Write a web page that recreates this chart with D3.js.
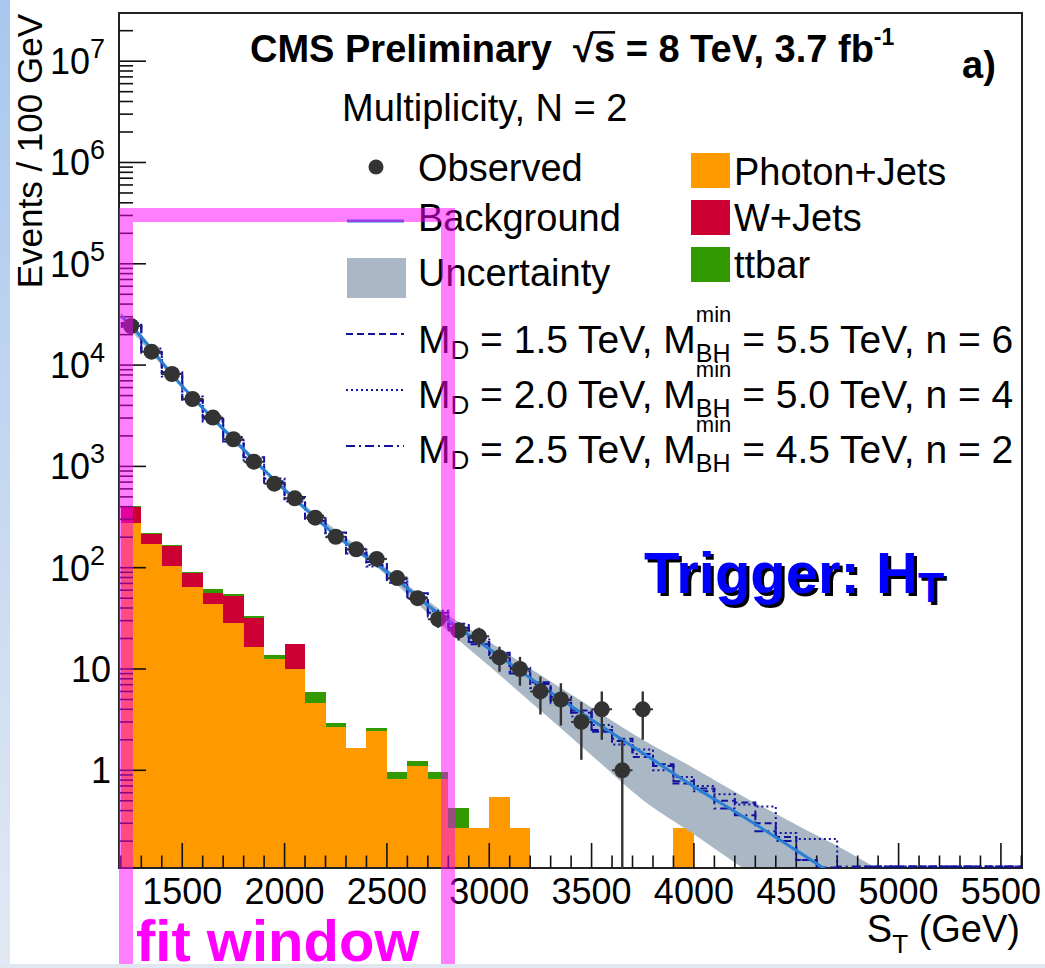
<!DOCTYPE html>
<html>
<head>
<meta charset="utf-8">
<title>S_T distribution, N = 2</title>
<style>
  html, body { margin: 0; padding: 0; background: #fff; }
  svg text { font-family: "Liberation Sans", Arial, Helvetica, sans-serif; white-space: pre; }
</style>
</head>
<body>
<svg id="viz"></svg>
<script src="https://cdn.jsdelivr.net/npm/d3@7/dist/d3.min.js"></script>
<script>
var width = 1045;
var height = 968;

// observed data, bin centres (GeV) and counts
var obsST = [1250, 1350, 1450, 1550, 1650, 1750, 1850, 1950, 2050, 2150, 2250, 2350, 2450,
             2550, 2650, 2750, 2850, 2950, 3050, 3150, 3250, 3350, 3450, 3550, 3650, 3750];
var obsN = [24300, 13560, 8170, 4625, 3030, 1854, 1112, 675, 484, 312, 202, 152, 122,
            79, 50, 31, 24, 21, 13, 10, 6, 5, 3, 4, 1, 4];

// stacked MC, lower bin edges 1200..3900
var mcEdges = [1200, 1300, 1400, 1500, 1600, 1700, 1800, 1900, 2000, 2100, 2200, 2300, 2400, 2500,
               2600, 2700, 2800, 2900, 3000, 3100, 3200, 3300, 3400, 3500, 3600, 3700, 3800, 3900];
var photonJets = [274, 171, 105, 65, 43.5, 28.6, 16.4, 12.6, 9.9, 4.59, 2.69, 1.67, 2.46, 0.82,
                  1.09, 0.82, 0.27, 0.27, 0.55, 0.27, 0, 0, 0, 0, 0, 0, 0, 0.27];
var wJets = [126, 43, 60, 24, 13.1, 24.4, 15.3, 0, 7.6, 0, 0, 0, 0, 0,
             0, 0, 0, 0, 0, 0, 0, 0, 0, 0, 0, 0, 0, 0];
var ttbar = [8, 4, 4, 2, 4.4, 1.6, 1.9, 1.1, 0, 1.3, 0.22, 0, 0.14, 0.15,
             0.15, 0.15, 0.15, 0, 0, 0, 0, 0, 0, 0, 0, 0, 0, 0];

// background fit and its uncertainty band
var bgST = [1200, 1250, 1500, 1750, 2000, 2250, 2500, 2750, 3000, 3250, 3500, 3750, 4000, 4250, 4500, 4750];
var bgVal = [30900, 24500, 6170, 1860, 589, 209, 91.2, 35.5, 15.8, 6.92, 3.16, 1.48, 0.69, 0.34, 0.162, 0.076];
var bandST = [1200, 1500, 2000, 2500, 2750, 3000, 3250, 3500, 3750, 4000, 4250, 4500, 4750, 5000];
var bandHi = [33100, 6460, 617, 97.7, 39.8, 18.6, 8.71, 4.17, 2.0, 1.05, 0.54, 0.29, 0.158, 0.08];
var bandLo = [28800, 5890, 562, 83.2, 28.8, 10.7, 3.89, 1.41, 0.51, 0.234, 0.105, 0.05, 0.03, 0.02];

// black hole signal + background, lower bin edges 1200..5500
var sigEdges = [1200, 1300, 1400, 1500, 1600, 1700, 1800, 1900, 2000, 2100, 2200, 2300, 2400, 2500, 2600,
                2700, 2800, 2900, 3000, 3100, 3200, 3300, 3400, 3500, 3600, 3700, 3800, 3900, 4000, 4100,
                4200, 4300, 4400, 4500, 4600, 4700, 4800, 4900, 5000, 5100, 5200, 5300, 5400, 5500];
var sig1 = [26000, 13200, 8500, 4450, 3100, 1760, 1230, 690, 500, 290,
            222, 138, 114, 71, 56, 33, 28, 17.5, 14.5, 9.0,
            7.4, 4.6, 3.9, 2.4, 2.05, 1.35, 1.15, 0.74, 0.66, 0.50,
            0.48, 0.30, 0.22, 0.13, 0.11, 0.06, 0, 0, 0, 0,
            0, 0, 0, 0];
var sig2 = [23800, 14600, 7700, 4900, 2780, 1950, 1090, 760, 450, 325,
            200, 154, 103, 80, 49, 37.5, 24.5, 20.2, 12.8, 10.3,
            6.5, 5.3, 3.4, 2.8, 1.8, 1.6, 1.0, 0.86, 0.70, 0.58,
            0.46, 0.44, 0.24, 0.21, 0.21, 0.10, 0.07, 0, 0, 0,
            0, 0, 0, 0];
var sig3 = [25000, 13700, 8200, 4600, 2950, 1820, 1180, 715, 480, 305,
            205, 150, 106, 77, 51, 36, 25.5, 18.5, 13.8, 9.5,
            7.1, 4.9, 3.7, 2.5, 1.95, 1.45, 1.1, 0.78, 0.62, 0.42,
            0.36, 0.25, 0.2, 0.13, 0.09, 0, 0, 0, 0, 0,
            0, 0, 0, 0];

var xTickLabels = [1500, 2000, 2500, 3000, 3500, 4000, 4500, 5000, 5500];
var yTickLabels = [1, 10, 100, 1e3, 1e4, 1e5, 1e6, 1e7];

var colPhoton = "#ff9900", colW = "#cc0033", colTT = "#339900";
var colBand = "#aab8c5", colFit = "#2a7fd4", colSig = "#12129e";

var plot = {left: 119, right: 1022, top: 13, bottom: 868};

var x = d3.scaleLinear().domain([1191, 5603]).range([plot.left, plot.right]);
var y = d3.scaleLog().domain([0.1085, 2.99e7]).range([plot.bottom, plot.top]);
var yMin = y.domain()[0];

function yc(v) { return y(Math.max(v, yMin)); }
// empty signal bins are drawn just above the axis line, as ROOT does
function ys(v) { return v > 0 ? y(v) : plot.bottom - 1.5; }

var svg = d3.select("#viz").attr("width", width).attr("height", height);

var defs = svg.append("defs");
defs.append("clipPath").attr("id", "plotclip")
  .append("rect")
    .attr("x", plot.left).attr("y", plot.top)
    .attr("width", plot.right - plot.left).attr("height", plot.bottom - plot.top);

// slide edge decoration
var grad = defs.append("linearGradient").attr("id", "edge").attr("x1", 0).attr("x2", 0).attr("y1", 0).attr("y2", 1);
grad.append("stop").attr("offset", "0%").attr("stop-color", "#a8c7ee");
grad.append("stop").attr("offset", "100%").attr("stop-color", "#e2e9f3");

svg.append("rect").attr("width", width).attr("height", height).attr("fill", "#fff");

var inner = svg.append("g").attr("clip-path", "url(#plotclip)");

// stacked histograms: photon+jets, w+jets, ttbar
var stack = mcEdges.map(function(e, i) {
  return {lo: e, p: photonJets[i], w: wJets[i], t: ttbar[i]};
});

function stackRects(cls, lowF, highF, color) {
  inner.append("g").attr("class", cls)
    .selectAll("rect")
    .data(stack.filter(function(d) { return highF(d) > lowF(d); }))
    .enter()
    .append("rect")
      .attr("x", function(d) { return x(d.lo); })
      .attr("width", function(d) { return x(d.lo + 100) - x(d.lo); })
      .attr("y", function(d) { return yc(highF(d)); })
      .attr("height", function(d) { return yc(lowF(d)) - yc(highF(d)); })
      .attr("fill", color)
      .attr("shape-rendering", "crispEdges");
}
stackRects("photon", function(d) { return 0; }, function(d) { return d.p; }, colPhoton);
stackRects("wjets", function(d) { return d.p; }, function(d) { return d.p + d.w; }, colW);
stackRects("ttbar", function(d) { return d.p + d.w; }, function(d) { return d.p + d.w + d.t; }, colTT);

// uncertainty band
var band = bandST.map(function(s, i) { return {s: s, lo: bandLo[i], hi: bandHi[i]}; });
inner.append("path")
  .datum(band)
  .attr("fill", colBand)
  .attr("d", d3.area()
    .curve(d3.curveMonotoneX)
    .x(function(d) { return x(d.s); })
    .y0(function(d) { return y(d.lo); })
    .y1(function(d) { return y(d.hi); }));

// signal histograms as steps
function stepData(vals) {
  var pts = sigEdges.map(function(e, i) { return [e, vals[i]]; });
  pts.push([5600, vals[vals.length - 1]]);
  return pts;
}
var stepLine = d3.line()
  .curve(d3.curveStepAfter)
  .x(function(d) { return x(d[0]); })
  .y(function(d) { return ys(d[1]); });

var sigStyles = [
  {vals: sig1, dash: "7,4"},
  {vals: sig2, dash: "2,3"},
  {vals: sig3, dash: "9,4,2,4"}
];

// background fit
function drawFit() {
  inner.append("path")
    .datum(bgST.map(function(s, i) { return [s, bgVal[i]]; }))
    .attr("fill", "none")
    .attr("stroke", colFit)
    .attr("stroke-width", 3)
    .attr("d", d3.line()
      .curve(d3.curveMonotoneX)
      .x(function(d) { return x(d[0]); })
      .y(function(d) { return y(d[1]); }));
}

// observed points with sqrt(N) errors
function drawObs() {
  var obs = obsST.map(function(s, i) { return {s: s, n: obsN[i]}; });
  var pts = inner.append("g").attr("class", "obs");
  pts.selectAll("line.ey")
    .data(obs)
    .enter()
    .append("line")
      .attr("class", "ey")
      .attr("x1", function(d) { return x(d.s); })
      .attr("x2", function(d) { return x(d.s); })
      .attr("y1", function(d) { return yc(d.n - Math.sqrt(d.n)); })
      .attr("y2", function(d) { return yc(d.n + Math.sqrt(d.n)); })
      .attr("stroke", "#333")
      .attr("stroke-width", 2.4);
  pts.selectAll("line.ex")
    .data(obs)
    .enter()
    .append("line")
      .attr("class", "ex")
      .attr("x1", function(d) { return x(d.s - 50); })
      .attr("x2", function(d) { return x(d.s + 50); })
      .attr("y1", function(d) { return y(d.n); })
      .attr("y2", function(d) { return y(d.n); })
      .attr("stroke", "#333")
      .attr("stroke-width", 2);
  pts.selectAll("circle")
    .data(obs)
    .enter()
    .append("circle")
      .attr("cx", function(d) { return x(d.s); })
      .attr("cy", function(d) { return y(d.n); })
      .attr("r", 8)
      .attr("fill", "#333");
}

// frame and ROOT style inward ticks
svg.append("rect")
  .attr("x", plot.left).attr("y", plot.top)
  .attr("width", plot.right - plot.left).attr("height", plot.bottom - plot.top)
  .attr("fill", "none").attr("stroke", "#222").attr("stroke-width", 2);

function isDecade(v) {
  var l = Math.log10(v);
  return Math.abs(l - Math.round(l)) < 1e-6;
}
svg.append("g").attr("class", "yticks")
  .selectAll("line")
  .data(y.ticks())
  .enter()
  .append("line")
    .attr("x1", plot.left)
    .attr("x2", function(d) { return plot.left + (isDecade(d) ? 27 : 14); })
    .attr("y1", function(d) { return y(d); })
    .attr("y2", function(d) { return y(d); })
    .attr("stroke", "#111").attr("stroke-width", 1.6);

var xMinor = x.ticks(44).filter(function(d) { return d % 100 === 0 && d > 1191; });
svg.append("g").attr("class", "xticks")
  .selectAll("line")
  .data(xMinor)
  .enter()
  .append("line")
    .attr("x1", function(d) { return x(d); })
    .attr("x2", function(d) { return x(d); })
    .attr("y1", plot.bottom)
    .attr("y2", function(d) { return plot.bottom - (d % 500 === 0 ? 25 : 12.5); })
    .attr("stroke", "#111").attr("stroke-width", 1.6);

// signal lines go over the axis line so the empty bins show along it
var sigLayer = svg.append("g").attr("clip-path", "url(#plotclip)");
sigStyles.forEach(function(s) {
  sigLayer.append("path")
    .datum(stepData(s.vals))
    .attr("fill", "none")
    .attr("stroke", colSig)
    .attr("stroke-width", 2)
    .attr("stroke-dasharray", s.dash)
    .attr("d", stepLine);
});
inner = svg.append("g").attr("clip-path", "url(#plotclip)");
drawFit();
drawObs();

svg.append("g").attr("class", "xlabels")
  .selectAll("text")
  .data(xTickLabels)
  .enter()
  .append("text")
    .attr("x", function(d) { return x(d); })
    .attr("y", 904)
    .attr("text-anchor", "middle")
    .attr("font-size", 36)
    .text(function(d) { return d; });

var ylab = svg.append("g").attr("class", "ylabels")
  .selectAll("text")
  .data(yTickLabels)
  .enter()
  .append("text")
    .attr("x", function(d) { return d < 100 ? 111 : 105; })
    .attr("y", function(d) { return y(d) + 13; })
    .attr("text-anchor", "end")
    .attr("font-size", 36);
ylab.each(function(d) {
  var t = d3.select(this);
  var p = Math.round(Math.log10(d));
  if (p < 2) { t.text(d); return; }
  t.append("tspan").text("10");
  t.append("tspan").attr("dy", -16).attr("font-size", 27).text(p);
});

// axis titles
svg.append("text")
  .attr("transform", "translate(42,14) rotate(-90)")
  .attr("text-anchor", "end")
  .attr("font-size", 35)
  .text("Events / 100 GeV");

var xt = svg.append("text")
  .attr("x", 1020).attr("y", 942)
  .attr("text-anchor", "end")
  .attr("font-size", 38);
xt.append("tspan").text("S");
xt.append("tspan").attr("dy", 11).attr("font-size", 26).text("T");
xt.append("tspan").attr("dy", -11).text(" (GeV)");

// rich text helper: pieces placed one after another, "hold" stacks the next piece on top
function rich(g, x0, y0, parts, attrs) {
  var cx = x0, held = null;
  parts.forEach(function(p) {
    var t = g.append("text")
      .attr("x", cx).attr("y", y0 + (p.dy || 0))
      .attr("xml:space", "preserve")
      .attr("font-size", p.size)
      .text(p.t);
    for (var k in attrs) t.attr(k, attrs[k]);
    var w = t.node().getComputedTextLength();
    if (p.over) {
      g.append("line")
        .attr("x1", cx - 2).attr("x2", cx + w)
        .attr("y1", y0 - p.size * 0.78).attr("y2", y0 - p.size * 0.78)
        .attr("stroke", "#000").attr("stroke-width", 2.5);
    }
    if (p.hold) { held = w; return; }
    cx += held !== null ? Math.max(held, w) : w;
    held = null;
  });
  return cx;
}

var notes = svg.append("g").attr("class", "notes");
rich(notes, 250, 62, [
  {t: "CMS Preliminary  \u221A", size: 38},
  {t: "s", size: 38, over: true},
  {t: " = 8 TeV, 3.7 fb", size: 38},
  {t: "-1", size: 23, dy: -17}
], {"font-weight": "bold"});

notes.append("text")
  .attr("x", 962).attr("y", 78)
  .attr("font-size", 38).attr("font-weight", "bold")
  .text("a)");

notes.append("text")
  .attr("x", 342).attr("y", 121)
  .attr("font-size", 38)
  .text("Multiplicity, N = 2");

// legend
var leg = svg.append("g").attr("class", "legend");
leg.append("circle").attr("cx", 376).attr("cy", 167).attr("r", 7.5).attr("fill", "#333");
leg.append("line").attr("x1", 347).attr("x2", 404).attr("y1", 221).attr("y2", 221)
  .attr("stroke", colFit).attr("stroke-width", 3);
leg.append("rect").attr("x", 347).attr("y", 258).attr("width", 59).attr("height", 40).attr("fill", colBand);

var leftItems = [["Observed", 181], ["Background", 231], ["Uncertainty", 286]];
leftItems.forEach(function(d) {
  leg.append("text").attr("x", 418).attr("y", d[1]).attr("font-size", 38).text(d[0]);
});

var rightItems = [["Photon+Jets", colPhoton, 153, 185], ["W+Jets", colW, 200, 231], ["ttbar", colTT, 247, 278]];
rightItems.forEach(function(d) {
  leg.append("rect").attr("x", 691).attr("y", d[2]).attr("width", 39).attr("height", 35).attr("fill", d[1]);
  leg.append("text").attr("x", 734).attr("y", d[3]).attr("font-size", 38).text(d[0]);
});

var modelItems = [
  {md: "1.5", mbh: "5.5", n: "6", ly: 334, ty: 353},
  {md: "2.0", mbh: "5.0", n: "4", ly: 390, ty: 408},
  {md: "2.5", mbh: "4.5", n: "2", ly: 446, ty: 463}
];
modelItems.forEach(function(m, i) {
  leg.append("line").attr("x1", 346).attr("x2", 404).attr("y1", m.ly).attr("y2", m.ly)
    .attr("stroke", colSig).attr("stroke-width", 2)
    .attr("stroke-dasharray", sigStyles[i].dash);
  rich(leg, 418, m.ty, [
    {t: "M", size: 39},
    {t: "D", size: 26, dy: 6},
    {t: " = " + m.md + " TeV, M", size: 39},
    {t: "min", size: 22, dy: -31, hold: true},
    {t: "BH", size: 25, dy: 9},
    {t: " = " + m.mbh + " TeV, n = " + m.n, size: 39}
  ], {});
});

// trigger label with drop shadow
[["#000", 3], ["#0000ff", 0]].forEach(function(c) {
  var t = svg.append("text")
    .attr("x", 644 + c[1]).attr("y", 593 + c[1])
    .attr("font-size", 58).attr("font-weight", "bold")
    .attr("fill", c[0]);
  t.append("tspan").text("Trigger: H");
  t.append("tspan").attr("dy", 9).attr("font-size", 43).text("T");
});

// fit window overlay
svg.append("rect")
  .attr("x", 126).attr("y", 215)
  .attr("width", 322).attr("height", 790)
  .attr("fill", "none")
  .attr("stroke", "rgba(255,0,255,0.5)")
  .attr("stroke-width", 14);

svg.append("text")
  .attr("x", 136).attr("y", 961)
  .attr("font-size", 58).attr("font-weight", "bold")
  .attr("fill", "#ff00ff")
  .text("fit window");

svg.append("rect").attr("x", 0).attr("y", 0).attr("width", 10).attr("height", height).attr("fill", "url(#edge)");
svg.append("rect").attr("x", 0).attr("y", 964).attr("width", width).attr("height", 4).attr("fill", "#e0e7f1");
</script>
</body>
</html>
